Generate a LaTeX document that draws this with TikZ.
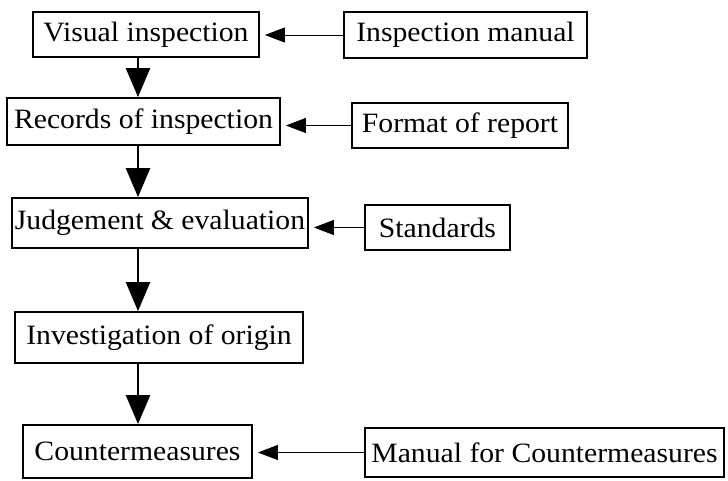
\documentclass[tikz,border=0pt]{standalone}
\usepackage{fontspec}
\setmainfont{Liberation Serif}[FakeStretch=1.06]
\usetikzlibrary{arrows.meta}
\tikzset{
  flowbox/.style={draw, line width=1.8pt, inner sep=0pt, align=center,
    font=\fontsize{28}{30}\selectfont},
  varrow/.style={line width=2.4pt, -{Triangle[length=29pt,width=24pt]}},
  harrow/.style={line width=0.9pt, -{Triangle[length=20pt,width=15pt]}, shorten >=5pt}
}
\begin{document}
\begin{tikzpicture}[x=1pt,y=-1pt]
\path[use as bounding box] (0,0) rectangle (728,480);
\node[flowbox, minimum width=226pt, minimum height=45pt] (V) at (146,34.5) {Visual inspection};
\node[flowbox, minimum width=243pt, minimum height=46pt] (IM) at (465.5,35) {Inspection manual};
\node[flowbox, minimum width=273pt, minimum height=47pt] (R) at (143.5,121.5) {Records of inspection};
\node[flowbox, minimum width=216pt, minimum height=45pt] (F) at (460,125.5) {Format of report};
\node[flowbox, minimum width=296pt, minimum height=50pt] (J) at (160,223) {Judgement \& evaluation};
\node[flowbox, minimum width=145pt, minimum height=45pt] (S) at (437.5,227.5) {Standards};
\node[flowbox, minimum width=288pt, minimum height=51pt] (I) at (159,337.5) {Investigation of origin};
\node[flowbox, minimum width=229pt, minimum height=53pt] (C) at (137.5,451.5) {Countermeasures};
\node[flowbox, minimum width=359pt, minimum height=49pt] (M) at (544.5,452.5) {Manual for Countermeasures};
\coordinate (ax) at (138,0);
\draw[varrow] (V.south -| ax) -- (R.north -| ax);
\draw[varrow] (R.south -| ax) -- (J.north -| ax);
\draw[varrow] (J.south -| ax) -- (I.north -| ax);
\draw[varrow] (I.south -| ax) -- (C.north -| ax);
\draw[harrow] (IM.west) -- (IM.west -| V.east);
\draw[harrow] (F.west) -- (F.west -| R.east);
\draw[harrow] (S.west) -- (S.west -| J.east);
\draw[harrow] (M.west) -- (M.west -| C.east);
\end{tikzpicture}
\end{document}
